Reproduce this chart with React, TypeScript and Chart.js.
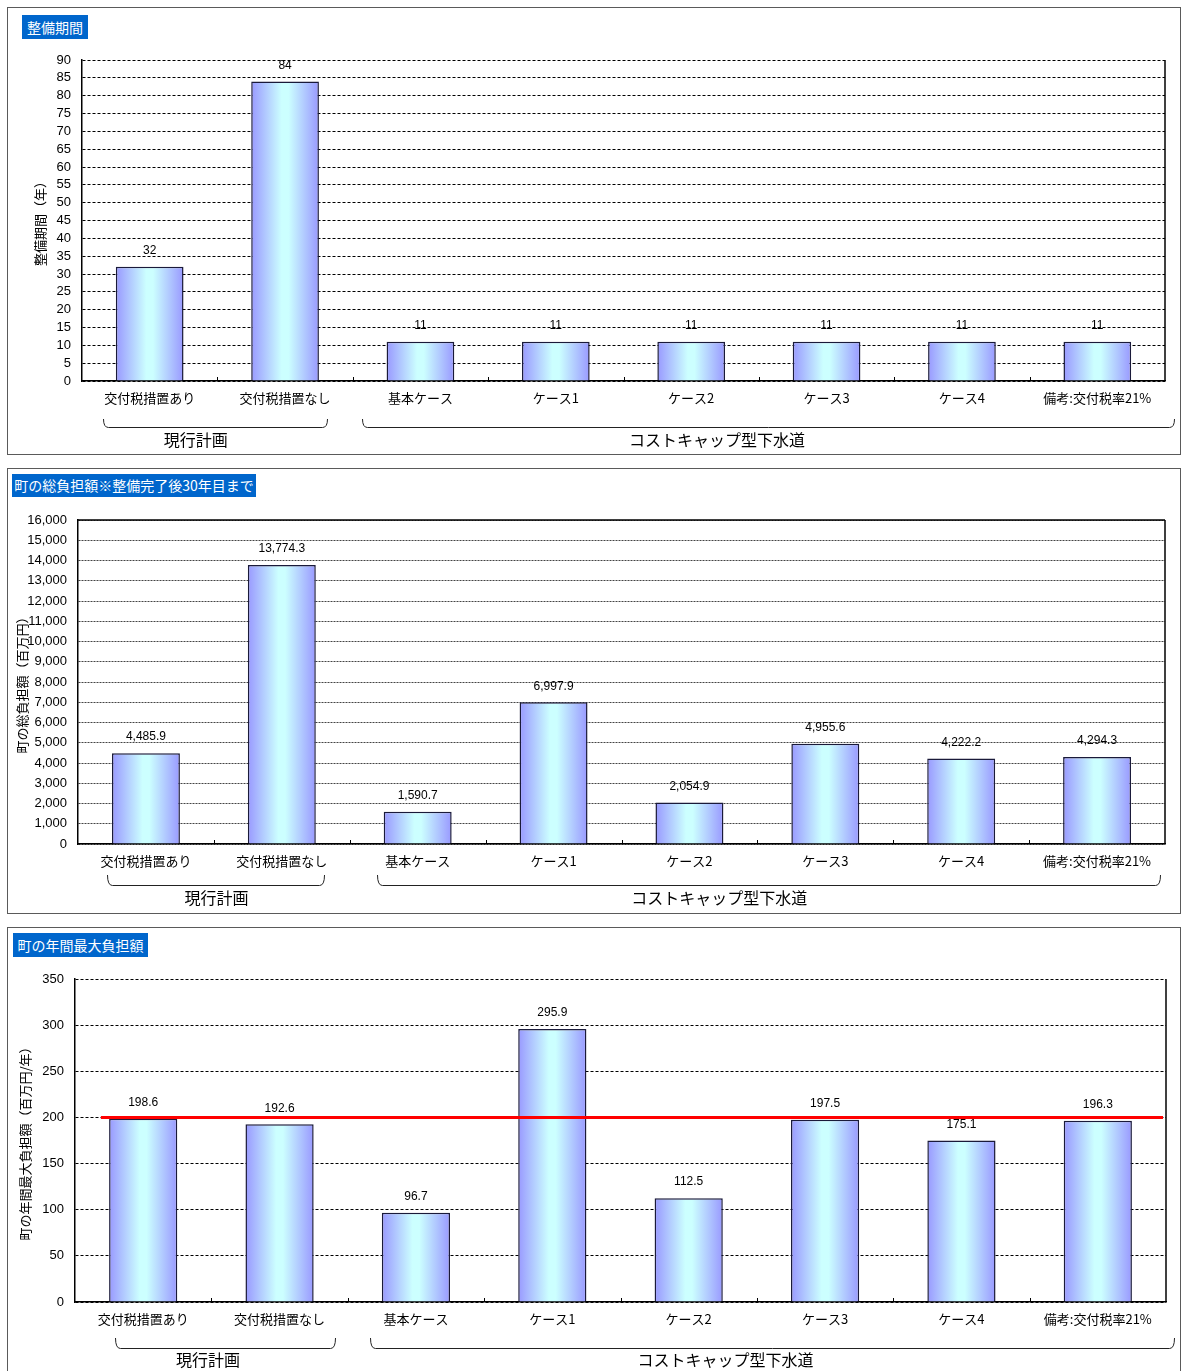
import React, { useEffect, useRef } from 'react';
import { Chart, registerables } from 'chart.js';

Chart.register(...registerables);

// ---------- data ----------
const categories = [
  '交付税措置あり',
  '交付税措置なし',
  '基本ケース',
  'ケース1',
  'ケース2',
  'ケース3',
  'ケース4',
  '備考:交付税率21%',
];
const groupLabels = ['現行計画', 'コストキャップ型下水道'];

const periodTitle = '整備期間';
const periodAxisTitle = '整備期間（年）';
const periodValues = [32, 84, 11, 11, 11, 11, 11, 11];

const totalTitle = '町の総負担額※整備完了後30年目まで';
const totalAxisTitle = '町の総負担額（百万円）';
const totalValues = [4485.9, 13774.3, 1590.7, 6997.9, 2054.9, 4955.6, 4222.2, 4294.3];

const annualTitle = '町の年間最大負担額';
const annualAxisTitle = '町の年間最大負担額（百万円/年）';
const annualValues = [198.6, 192.6, 96.7, 295.9, 112.5, 197.5, 175.1, 196.3];
const annualLimit = 200;

// ---------- styles ----------
const CJK = '"Noto Sans CJK JP", "Noto Sans", sans-serif';
const NUM = '"Liberation Sans", Arial, "Noto Sans CJK JP", sans-serif';
const fmt1 = (v: number) =>
  v.toLocaleString('en-US', { minimumFractionDigits: 1, maximumFractionDigits: 1 });
const fmtInt = (v: number) => v.toLocaleString('en-US');

interface PanelSpec {
  title: string;
  titleBox: { left: number; top: number; width: number; height: number };
  frameTop: number;
  frameHeight: number;
  canvasH: number;
  yTitle: string;
  yTitlePad: number;
  yAxisW: number;
  xAxisH: number;
  padTop: number;
  padRight: number;
  values: number[];
  yMax: number;
  yStep: number;
  tickFmt: (v: number) => string;
  labelFmt: (v: number) => string;
  gridColor: string;
  gridDash: number[];
  brackets: [number, number][];
  bracketTop: number;
  bracketBottom: number;
  groupX: number[];
  groupY: number;
  topSolid: boolean;
  limit?: number;
}

const panels: PanelSpec[] = [
  {
    title: periodTitle,
    titleBox: { left: 22, top: 15, width: 66, height: 24 },
    frameTop: 7,
    frameHeight: 448,
    canvasH: 446,
    yTitle: periodAxisTitle,
    yTitlePad: 24,
    yAxisW: 74,
    xAxisH: 73,
    padTop: 52,
    padRight: 15,
    values: periodValues,
    yMax: 90,
    yStep: 5,
    tickFmt: (v) => String(v),
    labelFmt: (v) => String(v),
    gridColor: '#000000',
    gridDash: [3, 2],
    brackets: [
      [-0.345, 1.31],
      [1.57, 7.57],
    ],
    bracketTop: 38,
    bracketBottom: 46,
    groupX: [0.34, 4.19],
    groupY: 59,
    topSolid: false,
  },
  {
    title: totalTitle,
    titleBox: { left: 12, top: 474, width: 244, height: 23 },
    frameTop: 468,
    frameHeight: 446,
    canvasH: 444,
    yTitle: totalAxisTitle,
    yTitlePad: 6,
    yAxisW: 70,
    xAxisH: 69,
    padTop: 51,
    padRight: 15,
    values: totalValues,
    yMax: 16000,
    yStep: 1000,
    tickFmt: fmtInt,
    labelFmt: fmt1,
    gridColor: '#444444',
    gridDash: [2, 1],
    brackets: [
      [-0.29, 1.31],
      [1.7, 7.46],
    ],
    bracketTop: 31,
    bracketBottom: 41,
    groupX: [0.52, 4.22],
    groupY: 54,
    topSolid: true,
  },
  {
    title: annualTitle,
    titleBox: { left: 13, top: 933, width: 135, height: 24 },
    frameTop: 927,
    frameHeight: 446,
    canvasH: 444,
    yTitle: annualAxisTitle,
    yTitlePad: 9,
    yAxisW: 67,
    xAxisH: 70,
    padTop: 51,
    padRight: 14,
    values: annualValues,
    yMax: 350,
    yStep: 50,
    tickFmt: (v) => String(v),
    labelFmt: fmt1,
    gridColor: '#000000',
    gridDash: [3, 2],
    brackets: [
      [-0.21, 1.41],
      [1.66, 7.56],
    ],
    bracketTop: 36,
    bracketBottom: 46,
    groupX: [0.475, 4.27],
    groupY: 58,
    topSolid: false,
    limit: annualLimit,
  },
];

const CANVAS_W = 1172;

function PanelChart({ spec }: { spec: PanelSpec }) {
  const ref = useRef<HTMLCanvasElement | null>(null);

  useEffect(() => {
    if (!ref.current) return;
    const n = categories.length;

    const gradientFor = (ctx: any) => {
      const chart = ctx.chart;
      const area = chart.chartArea;
      if (!area || ctx.dataIndex === undefined) return '#aaccff';
      const xs = chart.scales.x;
      const cx = xs.getPixelForValue(ctx.dataIndex);
      const half = (area.width / n) * 0.25;
      const g = chart.ctx.createLinearGradient(cx - half, 0, cx + half, 0);
      g.addColorStop(0, '#9999ff');
      g.addColorStop(0.45, '#ccffff');
      g.addColorStop(0.55, '#ccffff');
      g.addColorStop(1, '#9999ff');
      return g;
    };

    const decorPlugin = {
      id: 'decor',
      afterDatasetsDraw(chart: any) {
        const c = chart.ctx;
        const area = chart.chartArea;
        const cw = area.width / n;
        c.save();
        // right border and optional top border
        c.strokeStyle = '#000';
        c.lineWidth = 1.5;
        c.beginPath();
        c.moveTo(area.right, area.top);
        c.lineTo(area.right, area.bottom);
        if (spec.topSolid) {
          c.moveTo(area.left, area.top);
          c.lineTo(area.right, area.top);
        }
        c.stroke();
        // category boundary ticks
        c.lineWidth = 1;
        c.beginPath();
        for (let i = 1; i < n; i++) {
          const x = Math.round(area.left + i * cw) + 0.5;
          c.moveTo(x, area.bottom);
          c.lineTo(x, area.bottom - 4);
        }
        c.stroke();
        // limit line
        if (spec.limit !== undefined) {
          const y = chart.scales.y.getPixelForValue(spec.limit);
          c.strokeStyle = '#ff0000';
          c.lineWidth = 3;
          c.beginPath();
          c.moveTo(area.left + 0.19 * cw, y);
          c.lineTo(area.right - 3, y);
          c.stroke();
        }
        // value labels
        c.fillStyle = '#000';
        c.font = '12px ' + NUM;
        c.textAlign = 'center';
        c.textBaseline = 'middle';
        const meta = chart.getDatasetMeta(0);
        meta.data.forEach((el: any, i: number) => {
          c.fillText(spec.labelFmt(spec.values[i]), el.x, el.y - 16);
        });
        // brackets
        c.strokeStyle = '#222';
        c.lineWidth = 1;
        const yT = area.bottom + spec.bracketTop;
        const yB = area.bottom + spec.bracketBottom + 0.5;
        spec.brackets.forEach(([a, b]) => {
          const x1 = Math.round(area.left + (a + 0.5) * cw) + 0.5;
          const x2 = Math.round(area.left + (b + 0.5) * cw) + 0.5;
          c.beginPath();
          c.moveTo(x1, yT);
          c.quadraticCurveTo(x1, yB, x1 + 5, yB);
          c.lineTo(x2 - 5, yB);
          c.quadraticCurveTo(x2, yB, x2, yT);
          c.stroke();
        });
        // group labels
        c.font = '16px ' + CJK;
        spec.groupX.forEach((gx, i) => {
          c.fillText(groupLabels[i], area.left + (gx + 0.5) * cw, area.bottom + spec.groupY);
        });
        c.restore();
      },
    };

    const chart = new Chart(ref.current, {
      type: 'bar',
      data: {
        labels: categories,
        datasets: [
          {
            data: spec.values,
            backgroundColor: gradientFor as any,
            borderColor: '#1a1a3a',
            borderWidth: 1.5,
            barPercentage: 0.5,
            categoryPercentage: 1,
          },
        ],
      },
      options: {
        responsive: false,
        animation: false,
        devicePixelRatio: 1,
        layout: { padding: { left: 0, top: spec.padTop, right: spec.padRight, bottom: 0 } },
        plugins: {
          legend: { display: false },
          tooltip: { enabled: false },
          title: { display: false },
        },
        scales: {
          x: {
            grid: { display: false, drawTicks: false },
            border: { display: true, color: '#000', width: 1.5 },
            ticks: {
              color: '#000',
              font: { family: CJK, size: 13 },
              padding: 9,
              autoSkip: false,
              maxRotation: 0,
              minRotation: 0,
            },
            afterFit: (s: any) => {
              s.height = spec.xAxisH;
            },
          },
          y: {
            min: 0,
            max: spec.yMax,
            grid: { color: spec.gridColor, lineWidth: 1, drawTicks: false },
            border: { display: true, color: '#000', width: 1.5, dash: spec.gridDash },
            ticks: {
              stepSize: spec.yStep,
              autoSkip: false,
              color: '#000',
              padding: 11,
              font: { family: NUM, size: 13 },
              callback: (v: any) => spec.tickFmt(Number(v)),
            },
            title: {
              display: true,
              text: spec.yTitle,
              color: '#000',
              font: { family: CJK, size: 13 },
              padding: { top: spec.yTitlePad, bottom: 0 },
            },
            afterFit: (s: any) => {
              s.width = spec.yAxisW;
            },
          },
        },
      },
      plugins: [decorPlugin],
    });
    return () => chart.destroy();
  }, [spec]);

  return (
    <>
      <div
        style={{
          position: 'absolute',
          left: 7,
          top: spec.frameTop,
          width: 1174,
          height: spec.frameHeight,
          border: '1px solid #5a5a5a',
          boxSizing: 'border-box',
          background: '#fff',
        }}
      />
      <canvas
        ref={ref}
        width={CANVAS_W}
        height={spec.canvasH}
        style={{
          position: 'absolute',
          left: 8,
          top: spec.frameTop + 1,
          width: CANVAS_W,
          height: spec.canvasH,
        }}
      />
      <div
        style={{
          position: 'absolute',
          left: spec.titleBox.left,
          top: spec.titleBox.top,
          width: spec.titleBox.width,
          height: spec.titleBox.height,
          lineHeight: spec.titleBox.height + 'px',
          background: '#0066cc',
          color: '#fff',
          fontFamily: CJK,
          fontSize: 14,
          textAlign: 'center',
          whiteSpace: 'nowrap',
        }}
      >
        {spec.title}
      </div>
    </>
  );
}

export default function App() {
  return (
    <div
      style={{
        position: 'absolute',
        left: 0,
        top: 0,
        width: 1181,
        height: 1371,
        overflow: 'hidden',
        background: '#fff',
      }}
    >
      {panels.map((p, i) => (
        <PanelChart key={i} spec={p} />
      ))}
    </div>
  );
}
